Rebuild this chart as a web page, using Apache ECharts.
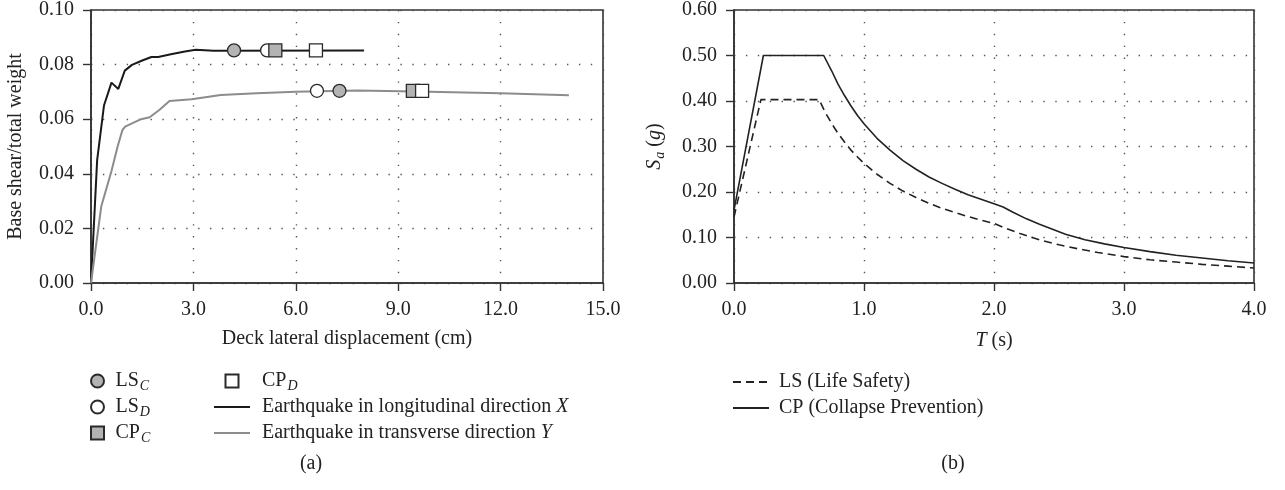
<!DOCTYPE html>
<html>
<head>
<meta charset="utf-8">
<title>Pushover curves and response spectra</title>
<script src="https://cdn.jsdelivr.net/npm/echarts@6/dist/echarts.min.js"></script>
<style>
	html, body { margin: 0; padding: 0; background: #fff; }
	#chart { width: 1285px; height: 490px; }
</style>
</head>
<body>
<div id="chart"></div>
<script>
	// (a) pushover curves, displacement (cm) / base shear ratio
	var dispX = [0, 0.18, 0.38, 0.6, 0.8, 0.99, 1.2, 1.5, 1.77, 1.97, 2.34, 2.75, 3.07, 3.59, 8.0];
	var shearX = [0, 0.045, 0.065, 0.0734, 0.0711, 0.0778, 0.0799, 0.0815, 0.0828, 0.0828, 0.0838, 0.0848, 0.0854, 0.0851, 0.0852];
	var dispY = [0, 0.3, 0.6, 0.78, 0.92, 1.0, 1.2, 1.47, 1.72, 2.0, 2.3, 2.95, 3.8, 4.85, 6.0, 7.8, 9.9, 12.0, 14.0];
	var shearY = [0, 0.028, 0.041, 0.050, 0.056, 0.0573, 0.0585, 0.060, 0.0607, 0.0634, 0.0667, 0.0673, 0.0689, 0.0695, 0.0701, 0.0705, 0.0701, 0.0695, 0.0688];

	// performance points: first on X curve, second on Y curve
	var lsCDisp = [4.19, 7.28], lsCShear = [0.0852, 0.0704];
	var lsDDisp = [5.16, 6.62], lsDShear = [0.0852, 0.0704];
	var cpCDisp = [5.40, 9.43], cpCShear = [0.0852, 0.0704];
	var cpDDisp = [6.59, 9.70], cpDShear = [0.0852, 0.0704];

	// (b) design spectra
	var periodLS = [0, 0.207, 0.655, 0.7, 0.75, 0.8, 0.85, 0.9, 0.95, 1.0, 1.1, 1.2, 1.3, 1.4, 1.5, 1.6, 1.7, 1.8, 1.9, 2.0, 2.1, 2.2, 2.35, 2.5, 2.65, 2.8, 3.0, 3.2, 3.4, 3.6, 3.8, 4.0];
	var saLS = [0.145, 0.403, 0.403, 0.376, 0.351, 0.329, 0.31, 0.292, 0.277, 0.263, 0.239, 0.219, 0.202, 0.188, 0.175, 0.164, 0.155, 0.146, 0.138, 0.131, 0.119, 0.109, 0.095, 0.084, 0.075, 0.067, 0.058, 0.051, 0.046, 0.041, 0.037, 0.033];
	var periodCP = [0, 0.226, 0.69, 0.75, 0.8, 0.85, 0.9, 0.95, 1.0, 1.1, 1.2, 1.3, 1.4, 1.5, 1.6, 1.7, 1.8, 1.9, 2.0, 2.07, 2.15, 2.25, 2.35, 2.45, 2.55, 2.7, 2.85, 3.0, 3.2, 3.4, 3.6, 3.8, 4.0];
	var saCP = [0.16, 0.5, 0.5, 0.467, 0.437, 0.412, 0.389, 0.368, 0.35, 0.318, 0.292, 0.269, 0.25, 0.233, 0.219, 0.206, 0.194, 0.184, 0.174, 0.167, 0.155, 0.141, 0.129, 0.118, 0.107, 0.095, 0.086, 0.078, 0.069, 0.061, 0.055, 0.049, 0.044];

	var legendText = {
		'LS_C': 'LS{sub|C}',
		'LS_D': 'LS{sub|D}',
		'CP_C': 'CP{sub|C}',
		'CP_D': 'CP{sub|D}',
		'X': 'Earthquake in longitudinal direction {it|X}',
		'Y': 'Earthquake in transverse direction {it|Y}',
		'LS': 'LS (Life Safety)',
		'CP': 'CP (Collapse Prevention)'
	};

	function zip(xs, ys) {
		var out = [];
		for (var i = 0; i < xs.length; i++) {
			out.push([xs[i], ys[i]]);
		}
		return out;
	}

	var font = 'Liberation Serif';
	var ink = '#222';
	var squareIcon = 'path://M0 0H10V10H0Z';
	var richText = {
		sub: { fontFamily: font, fontSize: 14, fontStyle: 'italic', color: ink, lineHeight: 24, padding: [10, 0, 0, 1] },
		it: { fontFamily: font, fontSize: 20, fontStyle: 'italic', color: ink, lineHeight: 24 }
	};
	var legendStyle = {
		fontFamily: font, fontSize: 20, color: ink, lineHeight: 24, rich: richText
	};
	// hide the dot that echarts puts in the middle of a line legend icon
	var noDot = { opacity: 0 };

	function valueAxis(idx, min, max, step, digits) {
		return {
			type: 'value',
			gridIndex: idx,
			min: min,
			max: max,
			interval: step,
			axisLine: { show: true, onZero: false, lineStyle: { color: '#333', width: 1.6 } },
			axisTick: { show: true, inside: false, length: 8, lineStyle: { color: '#333', width: 1.4 } },
			axisLabel: {
				fontFamily: font, fontSize: 20, color: ink, margin: 17,
				formatter: function (v) { return v.toFixed(digits); }
			},
			splitLine: { show: true, lineStyle: { color: '#555', width: 1.4, type: [1.4, 10.5] } }
		};
	}

	var xA = valueAxis(0, 0, 15, 3, 1);
	xA.name = 'Deck lateral displacement (cm)';
	xA.nameLocation = 'middle';
	xA.nameGap = 46;
	xA.nameTextStyle = { fontFamily: font, fontSize: 20, color: ink };

	var yA = valueAxis(0, 0, 0.1, 0.02, 2);
	yA.name = 'Base shear/total weight';
	yA.nameLocation = 'middle';
	yA.nameGap = 65;
	yA.nameTextStyle = { fontFamily: font, fontSize: 20, color: ink };

	var xB = valueAxis(1, 0, 4, 1, 1);
	xB.name = '{it|T} (s)';
	xB.nameLocation = 'middle';
	xB.nameGap = 46;
	xB.nameTextStyle = { fontFamily: font, fontSize: 20, color: ink, rich: richText };

	var yB = valueAxis(1, 0, 0.6, 0.1, 2);
	yB.name = '{it|S}{sub|a} ({it|g})';
	yB.nameLocation = 'middle';
	yB.nameGap = 67;
	yB.nameTextStyle = { fontFamily: font, fontSize: 20, color: ink, rich: richText };

	var grayFill = '#b3b3b3';

	function marker(name, shape, fill, xs, ys) {
		return {
			name: name,
			type: 'scatter',
			xAxisIndex: 0,
			yAxisIndex: 0,
			symbol: shape,
			symbolSize: 13,
			itemStyle: { color: fill, borderColor: '#2a2a2a', borderWidth: 1.3, opacity: 1 },
			data: zip(xs, ys),
			z: 5
		};
	}

	var option = {
		animation: false,
		backgroundColor: '#fff',
		textStyle: { fontFamily: font },
		title: [
			{ text: '(a)', left: 311, top: 454, textAlign: 'center', padding: 0,
				textStyle: { fontFamily: font, fontSize: 20, fontWeight: 'normal', color: ink } },
			{ text: '(b)', left: 953, top: 454, textAlign: 'center', padding: 0,
				textStyle: { fontFamily: font, fontSize: 20, fontWeight: 'normal', color: ink } }
		],
		grid: [
			{ left: 91, top: 10, width: 512, height: 273, show: true, borderColor: '#333', borderWidth: 1.6, backgroundColor: 'transparent' },
			{ left: 734, top: 10, width: 520, height: 273, show: true, borderColor: '#333', borderWidth: 1.6, backgroundColor: 'transparent' }
		],
		xAxis: [xA, xB],
		yAxis: [yA, yB],
		legend: [
			{
				data: ['LS_C', 'LS_D', { name: 'CP_C', icon: squareIcon }],
				orient: 'vertical', left: 90, top: 369,
				itemWidth: 26, itemHeight: 13, itemGap: 2, padding: 0,
				selectedMode: false,
				formatter: function (n) { return legendText[n]; },
				textStyle: legendStyle
			},
			{
				data: [{ name: 'CP_D', icon: squareIcon }, { name: 'X', itemStyle: noDot }, { name: 'Y', itemStyle: noDot }],
				orient: 'vertical', left: 213, top: 369,
				itemWidth: 36, itemHeight: 13, itemGap: 2, padding: 0,
				selectedMode: false,
				formatter: function (n) { return legendText[n]; },
				textStyle: Object.assign({ padding: [0, 0, 0, 7] }, legendStyle)
			},
			{
				data: [{ name: 'LS', itemStyle: noDot }, { name: 'CP', itemStyle: noDot }],
				orient: 'vertical', left: 732, top: 370,
				itemWidth: 36, itemHeight: 13, itemGap: 2, padding: 0,
				selectedMode: false,
				formatter: function (n) { return legendText[n]; },
				textStyle: Object.assign({ padding: [0, 0, 0, 5] }, legendStyle)
			}
		],
		series: [
			{
				name: 'X', type: 'line', xAxisIndex: 0, yAxisIndex: 0,
				symbol: 'none', showSymbol: false,
				lineStyle: { color: '#1a1a1a', width: 2 },
				itemStyle: { color: '#1a1a1a' },
				data: zip(dispX, shearX)
			},
			{
				name: 'Y', type: 'line', xAxisIndex: 0, yAxisIndex: 0,
				symbol: 'none', showSymbol: false,
				lineStyle: { color: '#8c8c8c', width: 2 },
				itemStyle: { color: '#8c8c8c' },
				data: zip(dispY, shearY)
			},
			marker('LS_C', 'circle', grayFill, lsCDisp, lsCShear),
			marker('LS_D', 'circle', '#fff', lsDDisp, lsDShear),
			marker('CP_C', 'rect', grayFill, cpCDisp, cpCShear),
			marker('CP_D', 'rect', '#fff', cpDDisp, cpDShear),
			{
				name: 'LS', type: 'line', xAxisIndex: 1, yAxisIndex: 1,
				symbol: 'none', showSymbol: false,
				lineStyle: { color: '#222', width: 1.6, type: [8, 5] },
				itemStyle: { color: '#222' },
				data: zip(periodLS, saLS)
			},
			{
				name: 'CP', type: 'line', xAxisIndex: 1, yAxisIndex: 1,
				symbol: 'none', showSymbol: false,
				lineStyle: { color: '#222', width: 1.6 },
				itemStyle: { color: '#222' },
				data: zip(periodCP, saCP)
			}
		]
	};

	var myChart = echarts.init(document.getElementById('chart'));
	myChart.setOption(option);
</script>
</body>
</html>
